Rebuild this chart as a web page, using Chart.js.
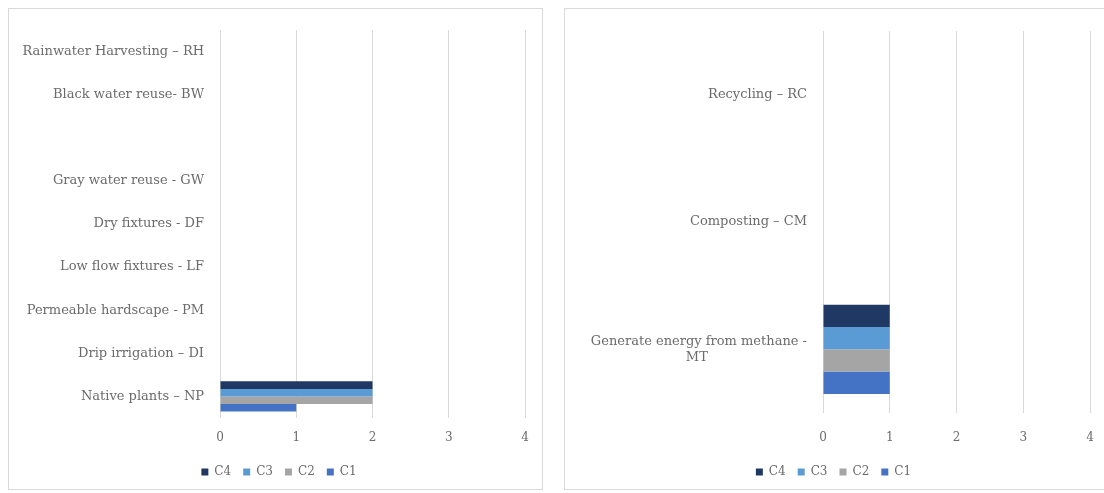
<!DOCTYPE html>
<html>
<head>
<meta charset="utf-8">
<script src="https://cdn.jsdelivr.net/npm/chart.js@4"></script>
<style>
  body { margin: 0; background: #fff; width: 1104px; height: 493px; overflow: hidden; position: relative; }
  .panel { position: absolute; top: 8px; height: 480px; border: 1px solid #d9d9d9; overflow: hidden; }
  #leftPanel { left: 8px; width: 533px; }
  #rightPanel { left: 564px; width: 560px; }
  .box { position: absolute; left: 0; top: 0; height: 480px; }
</style>
</head>
<body>
<div class="panel" id="leftPanel"><div class="box" style="width:533px"><canvas id="leftChart"></canvas></div></div>
<div class="panel" id="rightPanel"><div class="box" style="width:539px"><canvas id="rightChart"></canvas></div></div>
<script>
// water measures (top to bottom as shown)
const waterLabels = ['Rainwater Harvesting – RH', 'Black water reuse- BW', '', 'Gray water reuse - GW',
    'Dry fixtures - DF', 'Low flow fixtures - LF', 'Permeable hardscape - PM', 'Drip irrigation – DI', 'Native plants – NP'];
const waterC4 = [0, 0, 0, 0, 0, 0, 0, 0, 2];
const waterC3 = [0, 0, 0, 0, 0, 0, 0, 0, 2];
const waterC2 = [0, 0, 0, 0, 0, 0, 0, 0, 2];
const waterC1 = [0, 0, 0, 0, 0, 0, 0, 0, 1];

// waste measures (second line padded so it sits centred under the first)
const wasteLabels = ['Recycling – RC', 'Composting – CM',
    ['Generate energy from methane -', 'MT                        ']];
const wasteC4 = [0, 0, 1];
const wasteC3 = [0, 0, 1];
const wasteC2 = [0, 0, 1];
const wasteC1 = [0, 0, 1];

const xTicks = [0, 1, 2, 3, 4];
const seriesNames = ['C4', 'C3', 'C2', 'C1'];
const seriesColors = ['#1f3864', '#5b9bd5', '#a5a5a5', '#4472c4'];

const serif = 'DejaVu Serif';
const textColor = '#6b6b6b';

function makeChart(id, labels, series, o) {
    const ctx = document.getElementById(id).getContext('2d');
    return new Chart(ctx, {
        type: 'bar',
        data: {
            labels: labels,
            datasets: series.map((vals, i) => ({
                label: seriesNames[i],
                data: vals,
                backgroundColor: seriesColors[i],
                borderWidth: 0,
                categoryPercentage: 0.7,
                barPercentage: 1
            }))
        },
        options: {
            indexAxis: 'y',
            responsive: true,
            maintainAspectRatio: false,
            animation: false,
            layout: { padding: { top: o.top, right: o.right, left: 0, bottom: 1 } },
            plugins: {
                tooltip: { enabled: false },
                legend: {
                    position: 'bottom',
                    labels: {
                        boxWidth: 7, boxHeight: 7, padding: 12,
                        color: textColor,
                        font: { family: serif, size: 12 }
                    }
                }
            },
            scales: {
                x: {
                    min: xTicks[0],
                    max: xTicks[xTicks.length - 1],
                    afterBuildTicks: s => { s.ticks = xTicks.map(v => ({ value: v })); },
                    grid: { color: '#d9d9d9', lineWidth: 1, drawTicks: false },
                    border: { display: false },
                    ticks: { color: textColor, padding: o.tickPad, font: { family: serif, size: 12 } },
                    afterFit: s => { s.height = o.xHeight; s.paddingLeft = 0; s.paddingRight = 0; }
                },
                y: {
                    grid: { display: false },
                    border: { display: false },
                    ticks: { color: textColor, padding: 8, font: { family: serif, size: 13 } },
                    afterFit: s => { s.width = o.axisWidth; s.paddingTop = 0; s.paddingBottom = 0; }
                }
            }
        },
        plugins: [{
            id: 'legendShift',
            afterLayout: chart => {
                chart.legend.left += o.legendShift;
                chart.legend.right += o.legendShift;
            }
        }]
    });
}

makeChart('leftChart', waterLabels, [waterC4, waterC3, waterC2, waterC1],
    { axisWidth: 211, top: 21, right: 17, legendShift: 12, xHeight: 36, tickPad: 13 });
makeChart('rightChart', wasteLabels, [wasteC4, wasteC3, wasteC2, wasteC1],
    { axisWidth: 258, top: 22, right: 14, legendShift: 6, xHeight: 41, tickPad: 18 });
</script>
</body>
</html>
